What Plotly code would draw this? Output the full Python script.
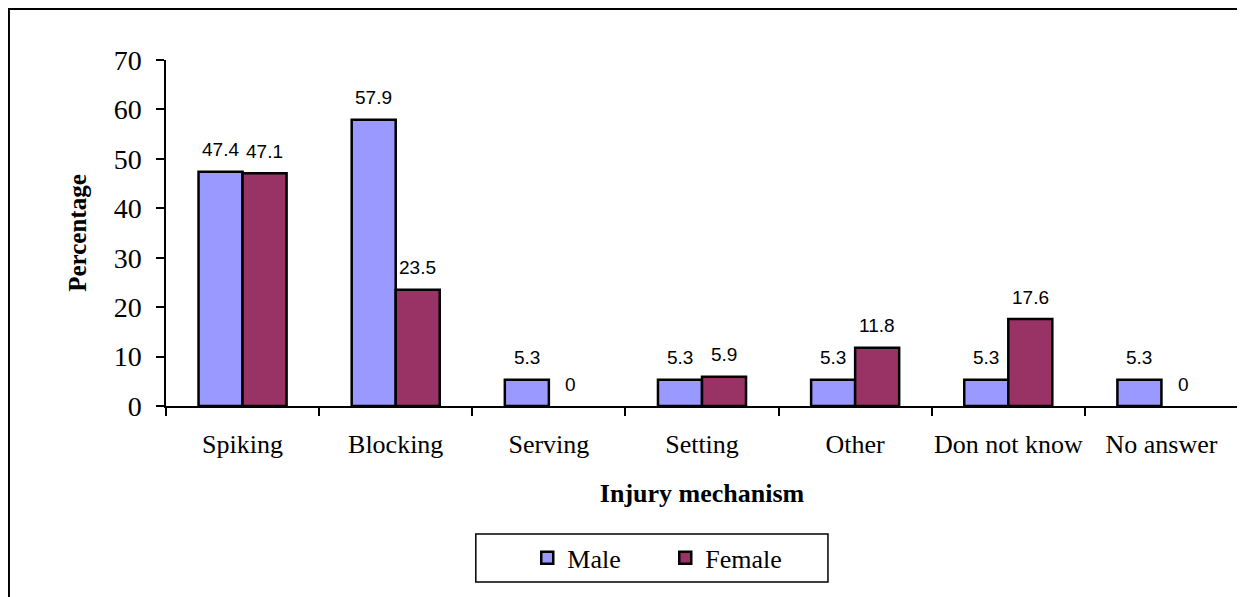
import plotly.graph_objects as go

categories = ["Spiking", "Blocking", "Serving", "Setting", "Other", "Don not know", "No answer"]
male = [47.4, 57.9, 5.3, 5.3, 5.3, 5.3, 5.3]
female = [47.1, 23.5, 0, 5.9, 11.8, 17.6, 0]
series_names = ["Male", "Female"]
y_ticks = [0, 10, 20, 30, 40, 50, 60, 70]

MALE_COLOR = "#9999FF"
FEMALE_COLOR = "#993366"
SERIF = "Liberation Serif, Times New Roman, serif"
SANS = "Liberation Sans, Arial, sans-serif"

fig = go.Figure()
for name, vals, color in [(series_names[0], male, MALE_COLOR), (series_names[1], female, FEMALE_COLOR)]:
    fig.add_trace(go.Bar(
        x=categories, y=vals, name=name,
        marker=dict(color=color, line=dict(color="black", width=[2.5 if v > 0 else 0 for v in vals])),
        hoverinfo="x+y+name",
    ))

annotations = []
for vals, shift in [(male, -22), (female, 22)]:
    for c, v in zip(categories, vals):
        annotations.append(dict(
            x=c, y=v, xref="x", yref="y", text=f"{v:g}", showarrow=False,
            xshift=shift, yshift=22, yanchor="middle", xanchor="center",
            font=dict(family=SANS, size=19, color="black"),
        ))

fig.update_layout(
    width=1245, height=597,
    margin=dict(l=158, r=15, t=52, b=199, autoexpand=False),
    paper_bgcolor="white", plot_bgcolor="white",
    barmode="group", bargap=0.425, bargroupgap=0,
    showlegend=True,
    legend=dict(
        orientation="h", x=0.337, xanchor="left", y=-0.439, yanchor="middle",
        font=dict(family=SERIF, size=26, color="black"),
        entrywidth=93, entrywidthmode="pixels",
        bgcolor="rgba(0,0,0,0)", borderwidth=0,
    ),
    xaxis=dict(
        showline=True, linecolor="black", linewidth=1.5,
        ticks="outside", tickson="boundaries", ticklen=8, tickwidth=1.5, tickcolor="black",
        tickfont=dict(family=SERIF, size=26, color="black"), tickangle=0,
        ticklabelstandoff=14, automargin=False,
        title=dict(text="<b>Injury mechanism</b>", font=dict(family=SERIF, size=26, color="black"), standoff=26),
        showgrid=False, zeroline=False,
    ),
    yaxis=dict(
        range=[0, 70], tickvals=y_ticks,
        showline=True, linecolor="black", linewidth=1.5,
        ticks="outside", ticklen=8, tickwidth=1.5, tickcolor="black",
        tickfont=dict(family=SERIF, size=28, color="black"),
        ticklabelstandoff=9, automargin=False,
        title=dict(text="<b>Percentage</b>", font=dict(family=SERIF, size=25, color="black"), standoff=20),
        showgrid=False, zeroline=False,
    ),
    annotations=annotations,
    shapes=[
        dict(type="rect", xref="paper", yref="paper", x0=-0.1465, x1=1.03, y0=-0.6, y1=1.1474,
             line=dict(color="black", width=2), fillcolor="rgba(0,0,0,0)", layer="below"),
        dict(type="rect", xref="paper", yref="paper", x0=0.289, x1=0.6175, y0=-0.509, y1=-0.370,
             line=dict(color="black", width=1.5), fillcolor="rgba(0,0,0,0)", layer="below"),
    ],
)

fig.write_html("out.html")
